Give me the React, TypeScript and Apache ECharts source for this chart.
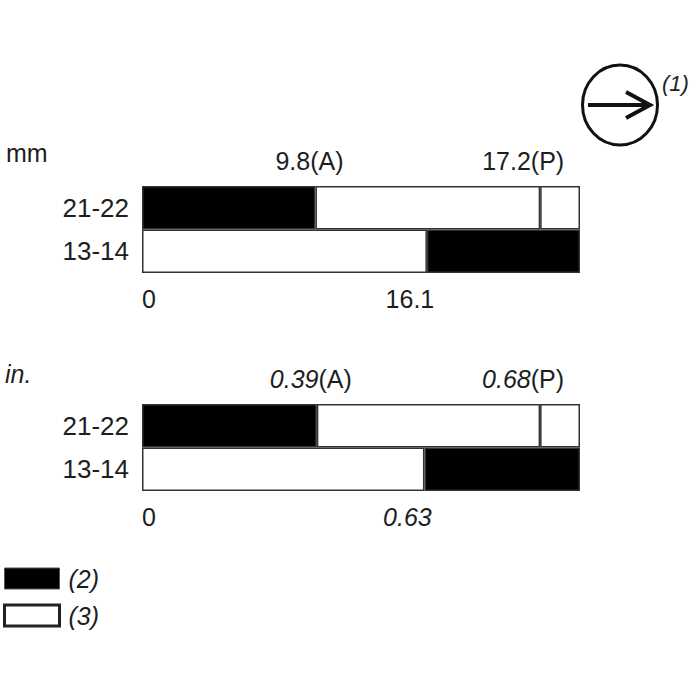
import React, { useEffect, useRef } from 'react';
import * as echarts from 'echarts';

// Rows of the diagram (top to bottom)
const categories = ['21-22', '13-14'];

// mm panel: positions
const mmTopBar = [9.8, 22.5, 24.75]; // end of (2) part, (P) line, bar end
const mmBottomBar = [16.1, 24.75]; // end of (3) part, bar end
const mmTopLabels = ['9.8(A)', '17.2(P)'];
const mmTickValues = [0, 16.1];
const mmTickLabels = ['0', '16.1'];

// in. panel
const inTopBar = [0.39, 0.888, 0.977];
const inBottomBar = [0.63, 0.977];
const inTopNumbers = ['0.39', '0.68'];
const inTopSuffix = ['(A)', '(P)'];
const inTickValues = [0, 0.63];
const inTickLabels = ['0', '0.63'];

const legendNames = ['(2)', '(3)'];
const unitNames = ['mm', 'in.'];

const FONT = "'Liberation Sans', Arial, Helvetica, sans-serif";
const TXT = '#1e1e1e';
const BLACK = '#000000';
const WHITE = '#ffffff';
const EDGE = '#333333';

function r(v: number) {
  return Math.round(v * 10000) / 10000;
}

function panelSeries(idx: number, top: number[], bottom: number[], topLabelTexts: string[]) {
  const stack = 'panel' + idx;
  const base = {
    type: 'bar',
    stack,
    xAxisIndex: idx,
    yAxisIndex: idx,
    barCategoryGap: '0%',
    itemStyle: { borderColor: EDGE, borderWidth: 1.5 },
    emphasis: { disabled: true },
  };
  const mkLabel = (text: string, off: number) => ({
    show: true,
    position: ['100%', -25],
    align: 'center',
    verticalAlign: 'middle',
    offset: [off, 0],
    formatter: text,
    color: TXT,
    fontSize: 25,
    fontFamily: FONT,
    textBorderWidth: 0,
    rich: {
      i: { fontStyle: 'italic', fontSize: 25, color: TXT, fontFamily: FONT },
      n: { fontSize: 25, color: TXT, fontFamily: FONT },
    },
  });
  return [
    {
      ...base,
      name: legendNames[0],
      itemStyle: { ...base.itemStyle, color: BLACK },
      data: [{ value: r(top[0]), label: mkLabel(topLabelTexts[0], -6) }, '-'],
    },
    {
      ...base,
      name: legendNames[1],
      itemStyle: { ...base.itemStyle, color: WHITE },
      data: [{ value: r(top[1] - top[0]), label: mkLabel(topLabelTexts[1], -17) }, r(bottom[0])],
    },
    {
      ...base,
      name: legendNames[1],
      itemStyle: { ...base.itemStyle, color: WHITE },
      data: [r(top[2] - top[1]), '-'],
    },
    {
      ...base,
      name: legendNames[0],
      itemStyle: { ...base.itemStyle, color: BLACK },
      data: ['-', r(bottom[1] - bottom[0])],
    },
  ];
}

function xAxisFor(idx: number, max: number, ticks: number[], labels: string[], italic: boolean) {
  return {
    gridIndex: idx,
    type: 'value',
    min: 0,
    max,
    axisLine: { show: false },
    axisTick: { show: false },
    splitLine: { show: false },
    axisLabel: {
      customValues: ticks,
      formatter: (v: number) => {
        const i = ticks.findIndex((t) => Math.abs(t - v) < 1e-9);
        if (i < 0) return '';
        const s = labels[i];
        return italic && v !== 0 ? '{i|' + s + '}' : s;
      },
      fontSize: 25,
      fontFamily: FONT,
      color: TXT,
      margin: 13,
      align: 'center',
      alignMinLabel: 'left',
      padding: [0, 34, 0, 0],
      rich: { i: { fontStyle: 'italic', fontSize: 25, color: TXT, fontFamily: FONT } },
    },
  };
}

function yAxisFor(idx: number) {
  return {
    gridIndex: idx,
    type: 'category',
    data: categories,
    inverse: true,
    axisLine: { show: false },
    axisTick: { show: false },
    splitLine: { show: false },
    axisLabel: { fontSize: 26, fontFamily: FONT, color: TXT, margin: 13 },
  };
}

export default function App() {
  const ref = useRef<HTMLDivElement>(null);

  useEffect(() => {
    if (!ref.current) return;
    const chart = echarts.init(ref.current, null, { renderer: 'svg' });
    const inLabels = inTopNumbers.map((n, i) => '{i|' + n + '}{n|' + inTopSuffix[i] + '}');
    chart.setOption({
      animation: false,
      backgroundColor: '#ffffff',
      textStyle: { fontFamily: FONT },
      grid: [
        { left: 142, top: 186, width: 438, height: 87, outerBoundsMode: 'none' },
        { left: 142, top: 404, width: 438, height: 87, outerBoundsMode: 'none' },
      ],
      xAxis: [
        xAxisFor(0, mmTopBar[2], mmTickValues, mmTickLabels, false),
        xAxisFor(1, inTopBar[2], inTickValues, inTickLabels, true),
      ],
      yAxis: [yAxisFor(0), yAxisFor(1)],
      legend: {
        orient: 'vertical',
        left: 3,
        top: 566,
        padding: 0,
        itemWidth: 55,
        itemHeight: 21,
        itemGap: 12,
        selectedMode: false,
        icon: 'rect',
        textStyle: { fontSize: 25, fontStyle: 'italic', color: TXT, fontFamily: FONT, padding: [0, 0, 0, 4] },
        data: [
          { name: legendNames[0], itemStyle: { color: BLACK, borderColor: '#555', borderWidth: 1 } },
          { name: legendNames[1], itemStyle: { color: WHITE, borderColor: '#222', borderWidth: 3 } },
        ],
      },
      series: [
        ...panelSeries(0, mmTopBar, mmBottomBar, mmTopLabels),
        ...panelSeries(1, inTopBar, inBottomBar, inLabels),
      ],
      graphic: [
        {
          type: 'text',
          left: 6,
          top: 140,
          style: { text: unitNames[0], fontSize: 25, fontFamily: FONT, fill: TXT },
        },
        {
          type: 'text',
          left: 5,
          top: 361,
          style: { text: unitNames[1], fontSize: 25, fontStyle: 'italic', fontFamily: FONT, fill: TXT },
        },
        {
          type: 'ellipse',
          shape: { cx: 620, cy: 105, rx: 37.5, ry: 40 },
          style: { fill: 'none', stroke: '#111', lineWidth: 3 },
        },
        {
          type: 'line',
          shape: { x1: 588, y1: 105, x2: 646, y2: 105 },
          style: { stroke: '#111', lineWidth: 4 },
        },
        {
          type: 'polyline',
          shape: { points: [[626, 92], [650, 105], [626, 118]] },
          style: { fill: 'none', stroke: '#111', lineWidth: 4 },
        },
        {
          type: 'text',
          left: 662,
          top: 72,
          style: { text: '(1)', fontSize: 22, fontStyle: 'italic', fontFamily: FONT, fill: TXT },
        },
      ],
    });
    return () => chart.dispose();
  }, []);

  return (
    <div
      ref={ref}
      style={{ position: 'fixed', left: 0, top: 0, width: 700, height: 700, background: '#fff' }}
    />
  );
}
